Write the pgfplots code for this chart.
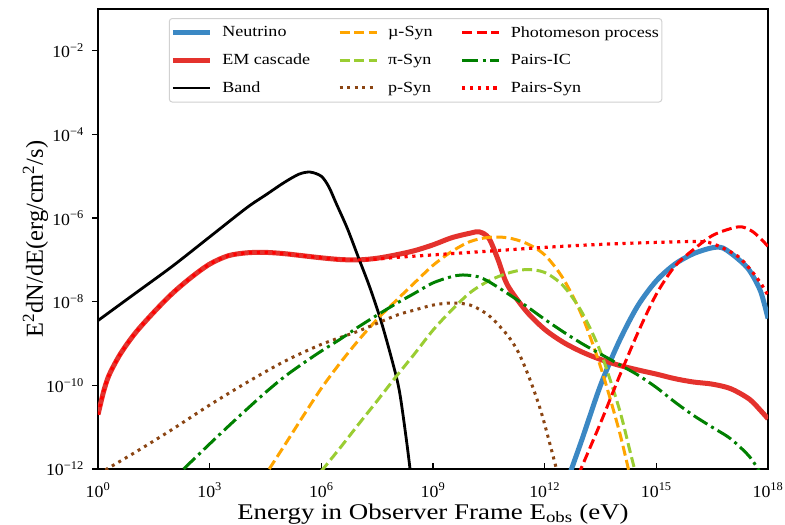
\documentclass[border=0pt]{standalone}
\usepackage{fontspec}
\setmainfont{Liberation Serif}
\usepackage{pgfplots}
\pgfplotsset{compat=1.18}
\definecolor{nublue}{RGB}{59,136,196}
\definecolor{emred}{RGB}{228,50,45}
\definecolor{muorange}{RGB}{255,165,0}
\definecolor{pigreen}{RGB}{154,205,50}
\definecolor{pbrown}{RGB}{139,69,19}
\definecolor{icgreen}{RGB}{0,128,0}
\definecolor{pmred}{RGB}{255,0,0}
\begin{document}
\begin{tikzpicture}
\useasboundingbox (-98bp,-56bp) rectangle (687bp,469bp);
\begin{axis}[
  at={(0,0)}, anchor=south west,
  xmode=log, ymode=log,
  width=670bp, height=460bp, scale only axis,
  xmin=1, xmax=1e18, ymin=1e-12, ymax=1e-1,
  xtick={1,1e3,1e6,1e9,1e12,1e15,1e18},
  xticklabels={10\textsuperscript{0},10\textsuperscript{3},10\textsuperscript{6},10\textsuperscript{9},10\textsuperscript{12},10\textsuperscript{15},10\textsuperscript{18}},
  ytick={1e-12,1e-10,1e-8,1e-6,1e-4,1e-2},
  yticklabels={10\textsuperscript{−12},10\textsuperscript{−10},10\textsuperscript{−8},10\textsuperscript{−6},10\textsuperscript{−4},10\textsuperscript{−2}},
  xminorticks=false, yminorticks=false,
  xtick pos=bottom, ytick pos=left,
  xtick align=inside, ytick align=outside,
  major tick length=6bp,
  every tick/.style={black, line width=1.2bp},
  axis line style={line width=2.7bp},
  tick label style={font=\fontsize{17}{19}\selectfont\addfontfeature{FakeStretch=1.05}},
  xticklabel style={anchor=base, yshift=-28bp, inner sep=0pt, text depth=0pt},
  yticklabel style={anchor=east, inner sep=0pt, xshift=-8bp},
  xlabel={Energy in Observer Frame E\textsubscript{obs} (eV)},
  ylabel={E\textsuperscript{2}dN/dE(erg/cm\textsuperscript{2}/s)},
  every axis x label/.style={at={([yshift=-50bp]rel axis cs:0.5,0)}, anchor=base, inner sep=0pt, font=\fontsize{22.5}{25}\selectfont\addfontfeature{FakeStretch=1.2}},
  every axis y label/.style={at={([xshift=-55bp]rel axis cs:0,0.5)}, anchor=base, rotate=90, font=\fontsize{24.5}{26}\selectfont},
  legend columns=3,
  transpose legend,
  legend cell align=left,
  legend style={at={(rel axis cs:0.474,1)}, anchor=north, yshift=-9bp,
    draw=black!18, rounded corners=3bp, line width=1bp,
    font=\fontsize{15.5}{18}\selectfont\addfontfeature{FakeStretch=1.17}, inner xsep=1bp, inner ysep=6bp,
    row sep=11.5bp,
    /tikz/every odd column/.append style={column sep=8bp},
    /tikz/every even column/.append style={column sep=26bp}},
  legend image code/.code={\draw[#1] (0bp,0bp) -- (37bp,0bp);},
]
\addplot[nublue, line width=5bp, smooth] coordinates {
(3.981e12,5.012e-13) (1e13,5.012e-12) (3.162e13,1e-10) (1e14,1.122e-9) (3.162e14,7.943e-9) (1e15,3.162e-8) (3.162e15,7.943e-8) (1e16,1.413e-7) (3.162e16,1.95e-7) (6.31e16,1.905e-7) (1.585e17,1.047e-7) (3.162e17,5.623e-8) (6.31e17,1.778e-8) (1e18,3.981e-9)
};
\addlegendentry{Neutrino}
\addplot[emred, line width=5bp, smooth] coordinates {
(1,1.995e-11) (1.413,7.079e-11) (1.995,1.778e-10) (3.981,5.623e-10) (10,1.778e-9) (31.62,5.623e-9) (100,1.585e-8) (316.2,3.8e-8) (1e3,7.943e-8) (3162,1.259e-7) (1e4,1.479e-7) (3.162e4,1.514e-7) (1e5,1.413e-7) (3.162e5,1.259e-7) (1e6,1.122e-7) (3.162e6,1.023e-7) (1e7,1e-7) (3.162e7,1.096e-7) (1e8,1.318e-7) (3.162e8,1.66e-7) (1e9,2.291e-7) (3.162e9,3.388e-7) (1e10,4.365e-7) (1.778e10,4.677e-7) (3.162e10,3.311e-7) (5.623e10,1e-7) (1e11,2.512e-8) (3.162e11,6.026e-9) (1e12,2.188e-9) (3.162e12,1.072e-9) (1e13,6.31e-10) (3.162e13,4.169e-10) (1e14,3.02e-10) (3.162e14,2.344e-10) (1e15,1.862e-10) (3.162e15,1.445e-10) (1e16,1.202e-10) (3.162e16,1.072e-10) (1e17,8.318e-11) (3.162e17,4.677e-11) (6.31e17,2.512e-11) (1e18,1.585e-11)
};
\addlegendentry{EM cascade}
\addplot[black, line width=2.8bp, smooth] coordinates {
(1,3.548e-9) (10,1.585e-8) (100,7.079e-8) (1e3,3.548e-7) (1e4,1.778e-6) (3.162e4,3.548e-6) (1e5,7.079e-6) (2.512e5,1.122e-5) (5.012e5,1.259e-5) (1e6,1e-5) (1.585e6,5.623e-6) (2.512e6,2.239e-6) (5.012e6,5.623e-7) (1e7,1.122e-7) (1.995e7,2.239e-8) (3.981e7,3.548e-9) (7.943e7,3.981e-10) (1.259e8,7.079e-11) (1.995e8,3.981e-12) (2.818e8,3.162e-13)
};
\addlegendentry{Band}
\addplot[muorange, line width=3bp, dash pattern=on 10bp off 4.5bp, smooth] coordinates {
(3.981e4,1e-12) (1e5,3.548e-12) (3.162e5,1.778e-11) (1e6,8.511e-11) (3.162e6,3.388e-10) (1e7,1.202e-9) (3.162e7,3.802e-9) (1e8,1.047e-8) (3.162e8,2.818e-8) (1e9,7.413e-8) (3.162e9,1.585e-7) (1e10,2.754e-7) (3.162e10,3.467e-7) (1e11,3.388e-7) (3.162e11,2.512e-7) (1e12,1.318e-7) (3.162e12,3.548e-8) (1e13,4.677e-9) (3.162e13,2.818e-10) (1e14,8.318e-12) (1.995e14,6.31e-13)
};
\addlegendentry{\textmu-Syn}
\addplot[pigreen, line width=3bp, dash pattern=on 10bp off 4.5bp, smooth] coordinates {
(1e6,8.913e-13) (3.162e6,3.162e-12) (1e7,1.175e-11) (3.162e7,4.266e-11) (1e8,1.585e-10) (3.162e8,5.623e-10) (1e9,2.089e-9) (3.162e9,6.31e-9) (1e10,1.66e-8) (3.162e10,3.162e-8) (1e11,4.786e-8) (3.162e11,5.888e-8) (1e12,5.012e-8) (3.162e12,2.399e-8) (1e13,5.623e-9) (3.162e13,6.31e-10) (1e14,2.818e-11) (1.995e14,2.512e-12) (3.162e14,5.012e-13)
};
\addlegendentry{π-Syn}
\addplot[pbrown, line width=3bp, dash pattern=on 3bp off 4.5bp, smooth] coordinates {
(1.585,9.55e-13) (10,2.512e-12) (100,8.913e-12) (1e3,3.388e-11) (1e4,1.175e-10) (1e5,3.715e-10) (1e6,9.55e-10) (1e7,1.995e-9) (1e8,4.677e-9) (3.162e8,6.31e-9) (1e9,8.318e-9) (3.162e9,9.333e-9) (1e10,8.318e-9) (3.162e10,4.677e-9) (1e11,1.585e-9) (1.995e11,6.026e-10) (3.981e11,1.413e-10) (7.943e11,2.399e-11) (1.585e12,2.512e-12) (2.512e12,5.012e-13)
};
\addlegendentry{p-Syn}
\addplot[pmred, line width=3bp, dash pattern=on 10bp off 4.5bp, smooth] coordinates {
(7.943e12,7.079e-13) (3.162e13,1.259e-11) (1e14,1.585e-10) (3.162e14,1.778e-9) (1e15,1.514e-8) (3.162e15,7.079e-8) (1e16,1.778e-7) (3.162e16,3.802e-7) (1e17,5.623e-7) (1.995e17,6.166e-7) (3.981e17,4.677e-7) (7.943e17,2.63e-7) (1e18,2.089e-7)
};
\addlegendentry{Photomeson process}
\addplot[icgreen, line width=3bp, dash pattern=on 16bp off 4.5bp on 3bp off 4.5bp, smooth] coordinates {
(1.995e2,1e-12) (1e3,3.981e-12) (3.162e3,1.047e-11) (1e4,2.692e-11) (3.162e4,6.761e-11) (1e5,1.585e-10) (3.162e5,3.311e-10) (1e6,6.607e-10) (3.162e6,1.259e-9) (1e7,2.512e-9) (3.162e7,4.786e-9) (1e8,8.913e-9) (3.162e8,1.585e-8) (1e9,2.818e-8) (3.162e9,3.981e-8) (6.31e9,4.365e-8) (1.585e10,3.981e-8) (3.162e10,3.02e-8) (1e11,1.585e-8) (3.162e11,7.943e-9) (1e12,3.802e-9) (3.162e12,1.905e-9) (1e13,1e-9) (3.162e13,5.623e-10) (1e14,3.162e-10) (3.162e14,1.778e-10) (1e15,8.913e-11) (3.162e15,3.981e-11) (1e16,1.905e-11) (3.162e16,1e-11) (1e17,5.248e-12) (3.162e17,1.995e-12) (6.31e17,7.943e-13)
};
\addlegendentry{Pairs-IC}
\addplot[pmred, line width=3.2bp, dash pattern=on 3.2bp off 4.6bp, smooth] coordinates {
(1,1.995e-11) (1.413,7.079e-11) (1.995,1.778e-10) (3.981,5.623e-10) (10,1.778e-9) (31.62,5.623e-9) (100,1.585e-8) (316.2,3.8e-8) (1e3,7.943e-8) (3162,1.259e-7) (1e4,1.479e-7) (3.162e4,1.514e-7) (1e5,1.413e-7) (3.162e5,1.259e-7) (1e6,1.122e-7) (3.162e6,1.023e-7) (1e7,1e-7) (3.162e7,1.047e-7) (1e8,1.148e-7) (1e9,1.318e-7) (1e10,1.514e-7) (1e11,1.738e-7) (1e12,1.995e-7) (1e13,2.239e-7) (1e14,2.455e-7) (1e15,2.63e-7) (3.162e15,2.692e-7) (1e16,2.754e-7) (2.512e16,2.63e-7) (6.31e16,1.905e-7) (1.585e17,1.202e-7) (3.162e17,6.31e-8) (6.31e17,2.818e-8) (1e18,1.413e-8)
};
\addlegendentry{Pairs-Syn}
\end{axis}
\end{tikzpicture}
\end{document}
